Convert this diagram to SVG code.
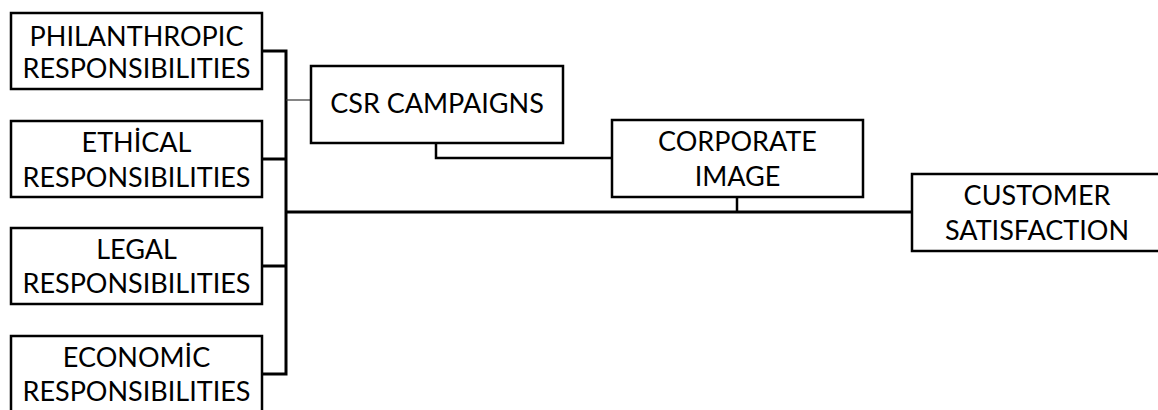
<svg xmlns="http://www.w3.org/2000/svg" width="1158" height="410" viewBox="0 0 1158 410">
<style>
.box{fill:#fff;stroke:#000;stroke-width:2.5}
.t{font-family:Lato,"Liberation Sans",sans-serif;font-size:27px;fill:#000;text-anchor:middle}
.thick{fill:none;stroke:#000;stroke-width:3}
.mid{fill:none;stroke:#000;stroke-width:2.5}
.thin{fill:none;stroke:#333;stroke-width:1.2}
</style>
<rect width="1158" height="410" fill="#fff"/>
<g id="connectors">
<polyline class="thick" points="262,51 286,51 286,374 262,374"/>
<line class="thick" x1="262" y1="159" x2="286" y2="159"/>
<line class="thick" x1="262" y1="266" x2="286" y2="266"/>
<line class="thin" x1="286" y1="100" x2="311" y2="100"/>
<line class="thick" x1="286" y1="212" x2="912" y2="212"/>
<polyline class="mid" points="436,143 436,158 612,158"/>
<line class="mid" x1="737" y1="197" x2="737" y2="212"/>
</g>
<g id="philanthropic">
<rect class="box" x="11" y="13" width="251" height="76"/>
<text class="t" x="136.5" y="46">PHILANTHROPIC</text>
<text class="t" x="136.5" y="78">RESPONSIBILITIES</text>
</g>
<g id="ethical">
<rect class="box" x="11" y="121" width="251" height="76"/>
<text class="t" x="136.5" y="152">ETHİCAL</text>
<text class="t" x="136.5" y="187">RESPONSIBILITIES</text>
</g>
<g id="legal">
<rect class="box" x="11" y="228" width="251" height="76"/>
<text class="t" x="136.5" y="259">LEGAL</text>
<text class="t" x="136.5" y="293">RESPONSIBILITIES</text>
</g>
<g id="economic">
<rect class="box" x="11" y="336" width="251" height="80"/>
<text class="t" x="136.5" y="367">ECONOMİC</text>
<text class="t" x="136.5" y="401">RESPONSIBILITIES</text>
</g>
<g id="csr">
<rect class="box" x="311" y="66" width="252" height="77"/>
<text class="t" x="437" y="113">CSR CAMPAIGNS</text>
</g>
<g id="corporate">
<rect class="box" x="612" y="120" width="251" height="77"/>
<text class="t" x="737.5" y="151">CORPORATE</text>
<text class="t" x="737.5" y="186">IMAGE</text>
</g>
<g id="customer">
<rect class="box" x="912" y="174" width="252" height="77"/>
<text class="t" x="1037" y="205">CUSTOMER</text>
<text class="t" x="1037" y="240">SATISFACTION</text>
</g>
</svg>
